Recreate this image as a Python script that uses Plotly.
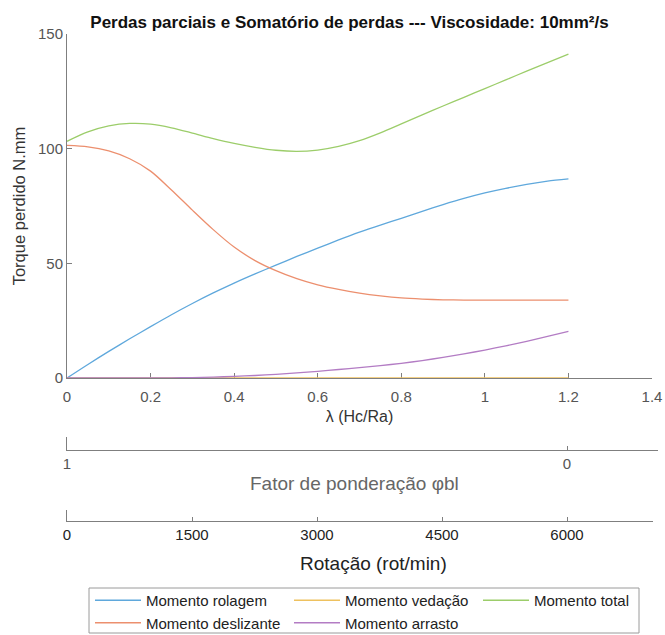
import plotly.graph_objects as go

# Coefficient lambda (Hc/Ra)
lam = [0.00, 0.05, 0.10, 0.15, 0.20, 0.25, 0.30, 0.35, 0.40, 0.45, 0.50, 0.55, 0.60,
       0.65, 0.70, 0.75, 0.80, 0.85, 0.90, 0.95, 1.00, 1.05, 1.10, 1.15, 1.20]

# Torque losses (N.mm)
m_rolagem = [0.0, 5.9, 11.6, 17.1, 22.4, 27.6, 32.5, 37.1, 41.4, 45.4, 49.2, 53.0, 56.6,
             60.2, 63.6, 66.7, 69.6, 72.7, 75.6, 78.3, 80.7, 82.7, 84.4, 85.8, 86.8]
m_deslizante = [101.4, 100.8, 99.0, 95.6, 90.2, 82.0, 73.2, 64.7, 57.1, 51.2, 46.8, 43.3, 40.6,
                38.6, 37.0, 35.8, 34.9, 34.4, 34.1, 34.0, 34.0, 34.0, 34.0, 34.0, 34.0]
m_vedacao = [0.0] * len(lam)
m_arrasto = [0.0, 0.0, 0.0, 0.0, 0.0, 0.05, 0.2, 0.4, 0.7, 1.1, 1.6, 2.2, 2.9,
             3.7, 4.5, 5.4, 6.4, 7.6, 9.0, 10.5, 12.2, 14.0, 16.0, 18.1, 20.3]
m_total = [103.2, 107.3, 109.9, 111.0, 110.7, 109.1, 106.8, 104.4, 102.3, 100.6, 99.3, 98.8, 99.4,
           101.0, 103.5, 106.9, 110.8, 114.7, 118.6, 122.4, 126.2, 130.0, 133.8, 137.5, 141.2]

# Secondary scales
phi_ticks = [1, 0]
rot_ticks = [0, 1500, 3000, 4500, 6000]

# name, values, colour, legend column
series = [
    ("Momento rolagem", m_rolagem, "#5fa8dc", "legend"),
    ("Momento deslizante", m_deslizante, "#ec8f6e", "legend"),
    ("Momento vedação", m_vedacao, "#eec15f", "legend2"),
    ("Momento arrasto", m_arrasto, "#b37cc4", "legend2"),
    ("Momento total", m_total, "#9ccd6a", "legend3"),
]

FONT = "Liberation Sans, Arial, sans-serif"
AXC = "#7f7f7f"

fig = go.Figure()
for name, vals, color, leg in series:
    fig.add_trace(go.Scatter(
        x=lam, y=vals, name=name, mode="lines",
        line=dict(color=color, width=1.3, shape="spline", smoothing=0.8),
        legend=leg, xaxis="x", yaxis="y",
    ))

# carrier traces for the auxiliary scales
fig.add_trace(go.Scatter(x=phi_ticks, y=[None] * len(phi_ticks), xaxis="x2", yaxis="y2",
                         showlegend=False, hoverinfo="skip", mode="lines"))
fig.add_trace(go.Scatter(x=rot_ticks, y=[None] * len(rot_ticks), xaxis="x3", yaxis="y3",
                         showlegend=False, hoverinfo="skip", mode="lines"))

W, H = 665, 635
L, R, T, B = 67, 658, 34, 530
PW, PH = R - L, B - T


def py(v):
    return (B - v) / PH


def px(v):
    return (v - L) / PW


tickfont = dict(family=FONT, size=15, color="#555555")
legfont = dict(family=FONT, size=15, color="#222222")


def legend_at(x_px):
    return dict(orientation="v", x=px(x_px), xanchor="left", y=py(584), yanchor="top",
                itemwidth=46, borderwidth=0, bgcolor="rgba(0,0,0,0)", font=legfont,
                traceorder="normal")


fig.update_layout(
    width=W, height=H,
    margin=dict(l=L, r=W - R, t=T, b=H - B, pad=0, autoexpand=False),
    paper_bgcolor="white", plot_bgcolor="white",
    font=dict(family=FONT, color="#333333"),
    title=dict(text="<b>Perdas parciais e Somatório de perdas --- Viscosidade: 10mm²/s</b>",
               x=349.5 / W, xanchor="center", y=1 - 22 / H, yanchor="middle",
               font=dict(family=FONT, size=17, color="#111111")),
    xaxis=dict(domain=[0, px(652)], range=[0, 1.4], anchor="y",
               tickvals=[0, 0.2, 0.4, 0.6, 0.8, 1, 1.2, 1.4],
               ticktext=["0", "0.2", "0.4", "0.6", "0.8", "1", "1.2", "1.4"],
               ticks="inside", ticklen=5, tickcolor=AXC, showline=True, linecolor=AXC,
               linewidth=1, showgrid=False, zeroline=False, tickfont=tickfont,
               ticklabelstandoff=5, layer="below traces",
               title=dict(text="λ (Hc/Ra)", standoff=6,
                          font=dict(family=FONT, size=16, color="#333333"))),
    yaxis=dict(domain=[py(378), 1], range=[0, 150], anchor="x",
               tickvals=[0, 50, 100, 150],
               ticks="inside", ticklen=5, tickcolor=AXC, showline=True, linecolor=AXC,
               linewidth=1, showgrid=False, zeroline=False, tickfont=tickfont,
               layer="below traces",
               title=dict(text="Torque perdido N.mm", standoff=8,
                          font=dict(family=FONT, size=16.5, color="#333333"))),
    xaxis2=dict(domain=[0, 1], range=[1, 1 - PW / 500.0], anchor="y2",
                tickvals=phi_ticks, ticktext=[str(v) for v in phi_ticks],
                ticks="inside", ticklen=4, tickcolor=AXC, showline=True, linecolor=AXC,
                linewidth=1, showgrid=False, zeroline=False, tickfont=tickfont),
    yaxis2=dict(domain=[py(450), py(437)], range=[0, 1], anchor="x2",
                showline=True, linecolor=AXC, linewidth=1, ticks="", showticklabels=False,
                showgrid=False, zeroline=False),
    xaxis3=dict(domain=[0, px(653)], range=[0, 6000 * 586 / 500.0], anchor="y3",
                tickvals=rot_ticks, ticktext=[str(v) for v in rot_ticks],
                ticks="inside", ticklen=4, tickcolor=AXC, showline=True, linecolor=AXC,
                linewidth=1, showgrid=False, zeroline=False,
                tickfont=dict(family=FONT, size=15, color="#222222")),
    yaxis3=dict(domain=[py(521), py(510)], range=[0, 1], anchor="x3",
                showline=True, linecolor=AXC, linewidth=1, ticks="", showticklabels=False,
                showgrid=False, zeroline=False),
    legend=legend_at(90),
    legend2=legend_at(289),
    legend3=legend_at(478),
    shapes=[
        dict(type="rect", xref="paper", yref="paper",
             x0=px(89), x1=px(639), y0=py(633), y1=py(588),
             line=dict(color="#9a9a9a", width=1), fillcolor="rgba(0,0,0,0)", layer="below"),
    ],
    annotations=[
        dict(text="Fator de ponderação φbl", xref="paper", yref="paper",
             x=px(354), y=py(483), xanchor="center", yanchor="middle", showarrow=False,
             font=dict(family=FONT, size=19, color="#666666")),
        dict(text="Rotação (rot/min)", xref="paper", yref="paper",
             x=px(373), y=py(563), xanchor="center", yanchor="middle", showarrow=False,
             font=dict(family=FONT, size=19, color="#222222")),
    ],
    showlegend=True,
)

fig.write_html("out.html")
